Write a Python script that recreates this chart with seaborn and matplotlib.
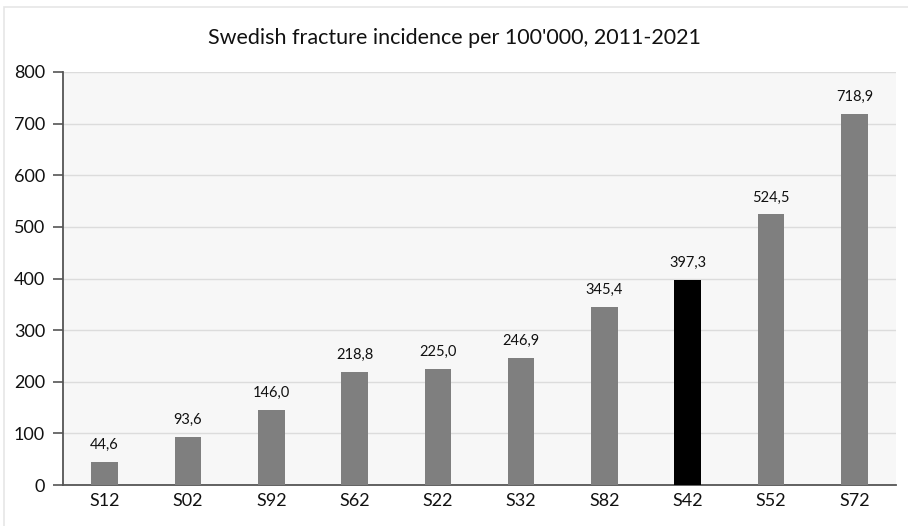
import matplotlib
matplotlib.use("Agg")
import matplotlib.pyplot as plt
import seaborn as sns
import pandas as pd

categories = ["S12", "S02", "S92", "S62", "S22", "S32", "S82", "S42", "S52", "S72"]
incidence = [44.6, 93.6, 146.0, 218.8, 225.0, 246.9, 345.4, 397.3, 524.5, 718.9]
highlight = "S42"
y_ticks = [0, 100, 200, 300, 400, 500, 600, 700, 800]
title = "Swedish fracture incidence per 100'000, 2011-2021"

sns.set_theme(style="white")
plt.rcParams["font.family"] = ["Lato", "DejaVu Sans"]

df = pd.DataFrame({"code": categories, "value": incidence})
palette = {c: ("#000000" if c == highlight else "#7f7f7f") for c in categories}

fig = plt.figure(figsize=(9.08, 5.26), dpi=100)
fig.patch.set_facecolor("white")
ax = fig.add_axes([63 / 908, 1 - 485 / 526, (896 - 63) / 908, (485 - 72) / 526])
ax.set_facecolor("#f7f7f7")

sns.barplot(data=df, x="code", y="value", hue="code", palette=palette,
            width=0.32, legend=False, ax=ax, edgecolor="none", zorder=3)

ax.set_ylim(0, 800)
ax.set_xlim(-0.5, len(categories) - 0.5)
ax.set_yticks(y_ticks)
ax.set_yticklabels([str(t) for t in y_ticks], fontsize=13, color="#111111")
ax.tick_params(axis="x", labelsize=13, colors="#111111", length=0, pad=6)
ax.tick_params(axis="y", length=7, width=1.2, color="#555555", pad=6, direction="out")
ax.tick_params(axis="y", which="major", left=True)
ax.set_xlabel("")
ax.set_ylabel("")
ax.grid(axis="y", color="#dcdcdc", linewidth=1, zorder=0)

for s in ["top", "right"]:
    ax.spines[s].set_visible(False)
for s in ["left", "bottom"]:
    ax.spines[s].set_color("#555555")
    ax.spines[s].set_linewidth(1.3)

for i, v in enumerate(incidence):
    ax.annotate(f"{v:.1f}".replace(".", ","), (i, v), xytext=(0, 7),
                textcoords="offset points", ha="center", va="bottom",
                fontsize=10.5, color="#111111")

fig.text(0.5, 1 - 38 / 526, title, ha="center", va="center",
         fontsize=15.5, color="#111111")

# faint outer frame
frame = plt.Rectangle((4 / 908, -0.01), 1.0, 1 - 7 / 526 + 0.01,
                      transform=fig.transFigure, fill=False,
                      edgecolor="#e6e6e6", linewidth=1.2)
fig.patches.append(frame)

fig.savefig("out.png", dpi=100)
